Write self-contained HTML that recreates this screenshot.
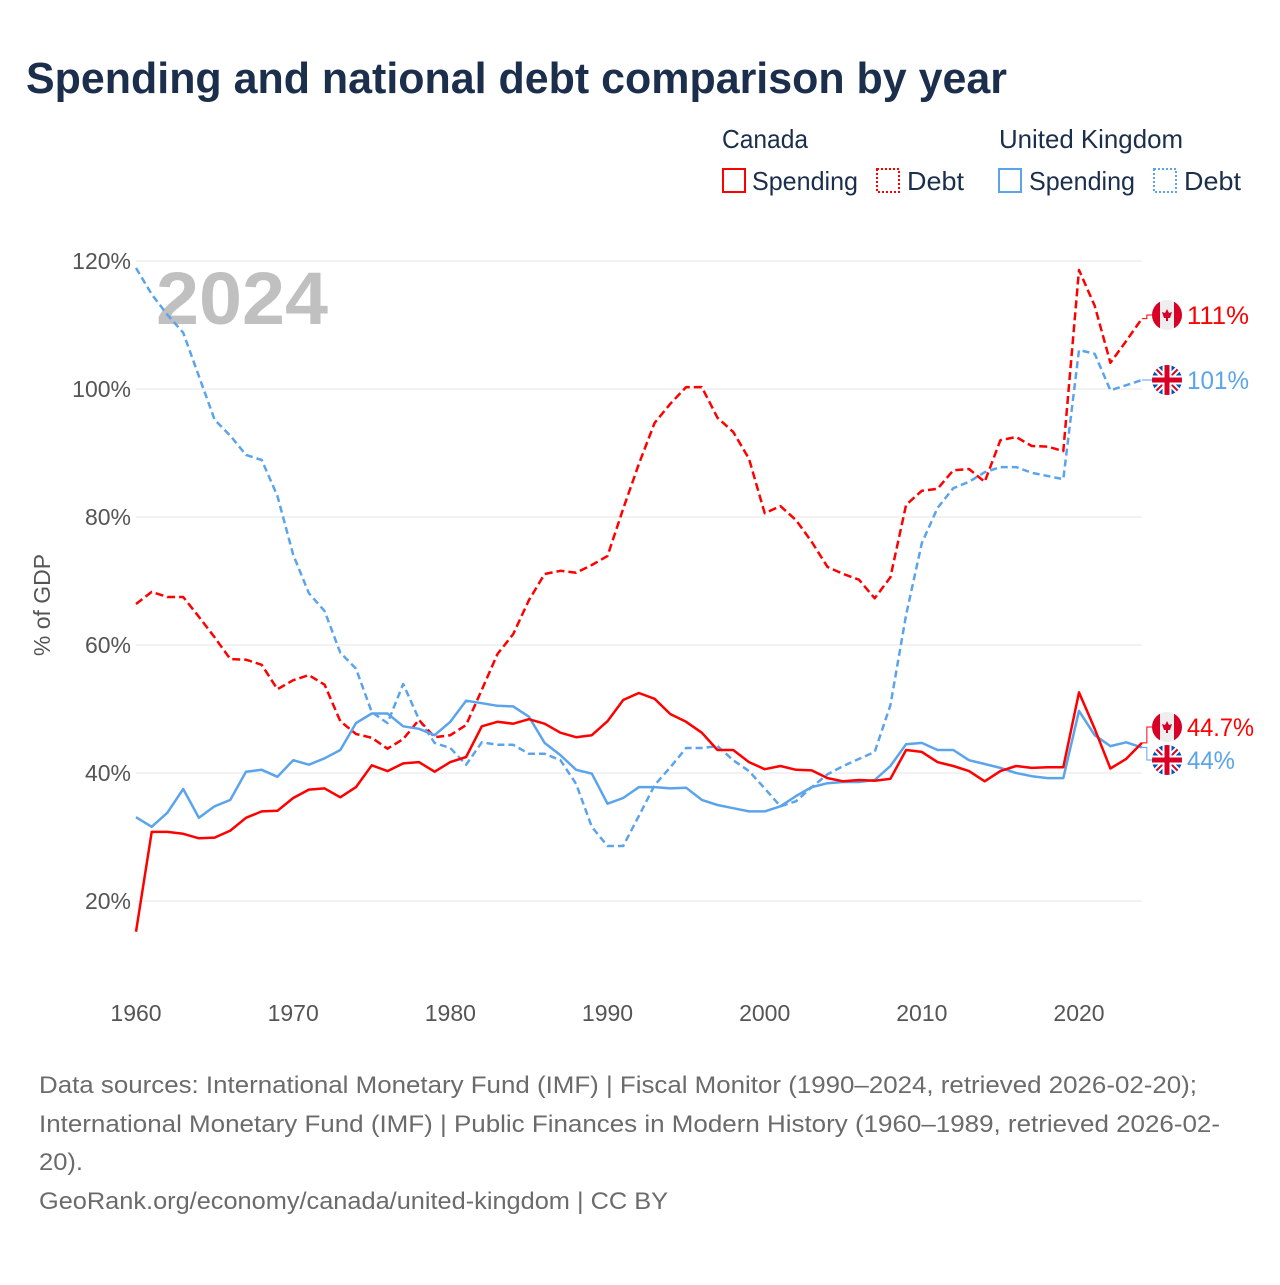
<!DOCTYPE html>
<html><head><meta charset="utf-8">
<style>
html,body{margin:0;padding:0;background:#fff;}
body{width:1280px;height:1280px;overflow:hidden;font-family:"Liberation Sans",sans-serif;}
svg text{font-family:"Liberation Sans",sans-serif;}
</style></head>
<body>
<svg id="chart" width="1280" height="1280" xmlns="http://www.w3.org/2000/svg">
<text x="26" y="93" font-size="44" font-weight="bold" fill="#1b2e4b" textLength="981" lengthAdjust="spacingAndGlyphs">Spending and national debt comparison by year</text>
<g font-size="26" fill="#1b2e4b">
<text x="722" y="148" textLength="86" lengthAdjust="spacingAndGlyphs">Canada</text>
<text x="999" y="148" textLength="184" lengthAdjust="spacingAndGlyphs">United Kingdom</text>
<rect x="723" y="169" width="22" height="23" fill="none" stroke="#ff0000" stroke-width="2"/>
<text x="752" y="190" textLength="106" lengthAdjust="spacingAndGlyphs">Spending</text>
<rect x="877" y="169" width="22" height="23" fill="none" stroke="#ff0000" stroke-width="2" stroke-dasharray="2,2"/>
<text x="907" y="190" textLength="57" lengthAdjust="spacingAndGlyphs">Debt</text>
<rect x="999" y="169" width="22" height="23" fill="none" stroke="#5ba4ec" stroke-width="2"/>
<text x="1029" y="190" textLength="106" lengthAdjust="spacingAndGlyphs">Spending</text>
<rect x="1154" y="169" width="22" height="23" fill="none" stroke="#5ba4ec" stroke-width="2" stroke-dasharray="2,2"/>
<text x="1184" y="190" textLength="57" lengthAdjust="spacingAndGlyphs">Debt</text>
</g>
<g id="grid"></g>
<text x="156" y="324" font-size="74" font-weight="bold" fill="#c0c0c0" textLength="172" lengthAdjust="spacingAndGlyphs">2024</text>
<text transform="translate(50,605) rotate(-90)" text-anchor="middle" font-size="23" fill="#555">% of GDP</text>
<g id="series"></g>
<g id="labels"></g>
<g font-size="24" fill="#6b6b6b">
<text x="39" y="1093" textLength="1158" lengthAdjust="spacingAndGlyphs">Data sources: International Monetary Fund (IMF) | Fiscal Monitor (1990–2024, retrieved 2026-02-20);</text>
<text x="39" y="1132" textLength="1181" lengthAdjust="spacingAndGlyphs">International Monetary Fund (IMF) | Public Finances in Modern History (1960–1989, retrieved 2026-02-</text>
<text x="39" y="1170" textLength="44" lengthAdjust="spacingAndGlyphs">20).</text>
<text x="39" y="1209" textLength="629" lengthAdjust="spacingAndGlyphs">GeoRank.org/economy/canada/united-kingdom | CC BY</text>
</g>
</svg>
<script>
const years = [];
for (let y = 1960; y <= 2024; y++) years.push(y);
const caSpending = [15.2,30.8,30.8,30.5,29.8,29.9,31,33,34,34.1,36.1,37.4,37.6,36.2,37.8,41.2,40.3,41.5,41.7,40.2,41.7,42.5,47.3,48,47.7,48.4,47.7,46.3,45.6,45.9,48.1,51.4,52.5,51.6,49.2,48,46.3,43.6,43.6,41.7,40.6,41.1,40.5,40.4,39.2,38.7,38.9,38.8,39.1,43.6,43.3,41.7,41.1,40.3,38.7,40.3,41.1,40.8,40.9,40.9,52.6,46.9,40.7,42.2,44.7];
const ukSpending = [33.1,31.6,33.8,37.5,33,34.8,35.8,40.2,40.5,39.4,42,41.3,42.3,43.6,47.8,49.3,49.3,47.3,46.9,45.9,48,51.3,50.9,50.5,50.4,48.8,44.7,42.8,40.5,39.9,35.2,36.1,37.8,37.8,37.6,37.7,35.8,35,34.5,34,34,34.8,36.4,37.8,38.4,38.6,38.6,38.9,41.1,44.5,44.7,43.6,43.6,42,41.4,40.8,40,39.5,39.2,39.2,49.7,45.9,44.2,44.8,44];
const caDebt = [66.4,68.3,67.5,67.5,64.4,61.2,57.8,57.7,56.9,53.1,54.5,55.3,53.8,48.1,46.1,45.5,43.8,45.3,48.3,45.6,45.9,47.5,53,58.6,61.7,67,71.1,71.6,71.3,72.5,73.9,81.3,88.3,94.7,97.7,100.3,100.3,95.5,93.3,89.1,80.6,81.7,79.5,76.1,72.2,71.1,70.2,67.3,70.6,81.9,84.1,84.4,87.3,87.5,85.5,92,92.5,91.1,91,90.3,118.6,113,104.1,107.5,111];
const ukDebt = [118.9,114.8,111.6,108.8,102,95.2,92.7,89.7,88.9,83.3,74.1,68.1,65.3,58.8,56.3,49.5,47.8,53.9,48.4,44.7,43.9,41.3,44.8,44.4,44.4,43,43,42,38.3,31.6,28.6,28.6,33.3,38.1,40.9,43.9,43.9,44.2,42,40.3,37.6,34.8,35.6,37.8,39.8,41.1,42.2,43.3,50.6,64.7,75.9,81.4,84.5,85.5,87,87.8,87.8,86.9,86.4,85.9,106.1,105.5,99.8,100.6,101.4];
const yTicks = [20,40,60,80,100,120];
const xTicks = [1960,1970,1980,1990,2000,2010,2020];

const NS = "http://www.w3.org/2000/svg";
const xS = yr => 136 + (yr - 1960) * (1079 - 136) / 60;
const yS = v => 901 - (v - 20) * 6.4;
function mk(tag, attrs, parent) {
  const e = document.createElementNS(NS, tag);
  for (const k in attrs) e.setAttribute(k, attrs[k]);
  parent.appendChild(e);
  return e;
}
const grid = document.getElementById('grid');
yTicks.forEach(t => {
  const l = mk('line', {x1:136, x2:1142, y1:yS(t), y2:yS(t), stroke:'#e6e6e6', 'stroke-width':1}, grid);
  
  
  const tx = mk('text', {x:131, y:yS(t)+8, 'text-anchor':'end', 'font-size':23, fill:'#555'}, grid);
  tx.textContent = t + '%';
  
  
});
xTicks.forEach(t => {
  const tx = mk('text', {x:xS(t), y:1021, 'text-anchor':'middle', 'font-size':23, fill:'#555'}, grid);
  tx.textContent = t;
  
  
});
const series = document.getElementById('series');
function line(vals, color, dash, name) {
  const d = vals.map((v,i) => (i?'L':'M') + xS(years[i]).toFixed(1) + ',' + yS(v).toFixed(1)).join('');
  const p = mk('path', {d:d, fill:'none', stroke:color, 'stroke-width':2.5, 'stroke-linejoin':'round'}, series);
  if (dash) p.setAttribute('stroke-dasharray', dash);
  
  
}
const RED = '#ff0000', BLUE = '#5ba4ec';
line(ukDebt, BLUE, '7,4', 'uk-debt-line');
line(caDebt, RED, '8,4', 'canada-debt-line');
line(ukSpending, BLUE, null, 'uk-spending-line');
line(caSpending, RED, null, 'canada-spending-line');

const labels = document.getElementById('labels');
let clipId = 0;
function flag(cx, cy, kind, name) {
  const g = mk('g', {}, labels);
  
  
  const id = 'c' + (clipId++);
  const cp = mk('clipPath', {id:id}, g);
  mk('circle', {cx:cx, cy:cy, r:15}, cp);
  const inner = mk('g', {'clip-path':'url(#'+id+')'}, g);
  if (kind === 'ca') {
    mk('rect', {x:cx-15, y:cy-15, width:30, height:30, fill:'#eee'}, inner);
    mk('rect', {x:cx-15, y:cy-15, width:8, height:30, fill:'#d80027'}, inner);
    mk('rect', {x:cx+7, y:cy-15, width:8, height:30, fill:'#d80027'}, inner);
    mk('path', {d:`M${cx},${cy-6}L${cx+2},${cy-2}L${cx+5},${cy-3}L${cx+3},${cy+3}L${cx+1},${cy+3}L${cx+1},${cy+6}L${cx-1},${cy+6}L${cx-1},${cy+3}L${cx-3},${cy+3}L${cx-5},${cy-3}L${cx-2},${cy-2}Z`, fill:'#d80027'}, inner);
  } else {
    mk('rect', {x:cx-15, y:cy-15, width:30, height:30, fill:'#0052b4'}, inner);
    mk('path', {d:`M${cx-15},${cy-15}L${cx+15},${cy+15}M${cx+15},${cy-15}L${cx-15},${cy+15}`, stroke:'#fff', 'stroke-width':6}, inner);
    mk('path', {d:`M${cx-15},${cy-15}L${cx+15},${cy+15}M${cx+15},${cy-15}L${cx-15},${cy+15}`, stroke:'#d80027', 'stroke-width':2}, inner);
    mk('path', {d:`M${cx},${cy-15}V${cy+15}M${cx-15},${cy}H${cx+15}`, stroke:'#fff', 'stroke-width':9}, inner);
    mk('path', {d:`M${cx},${cy-15}V${cy+15}M${cx-15},${cy}H${cx+15}`, stroke:'#d80027', 'stroke-width':5}, inner);
  }
}
function endLabel(val, ly, color, kind, text, name, w) {
  const x0 = xS(2024), y0 = yS(val);
  const c = mk('path', {d:`M${x0},${y0}H${x0+5}V${ly}H${1152}`, fill:'none', stroke:color, 'stroke-width':1}, labels);
  
  
  flag(1167, ly, kind, name + '-flag');
  const t = mk('text', {x:1187, y:ly+9, 'font-size':25, fill:color, textLength:w, lengthAdjust:'spacingAndGlyphs'}, labels);
  t.textContent = text;
  
  
}
endLabel(caDebt[caDebt.length-1], 315, RED, 'ca', '111%', 'canada-debt-end', 62);
endLabel(ukDebt[ukDebt.length-1], 380, BLUE, 'uk', '101%', 'uk-debt-end', 62);
endLabel(caSpending[caSpending.length-1], 727, RED, 'ca', '44.7%', 'canada-spending-end', 67);
endLabel(ukSpending[ukSpending.length-1], 760, BLUE, 'uk', '44%', 'uk-spending-end', 48);
</script>
</body></html>
